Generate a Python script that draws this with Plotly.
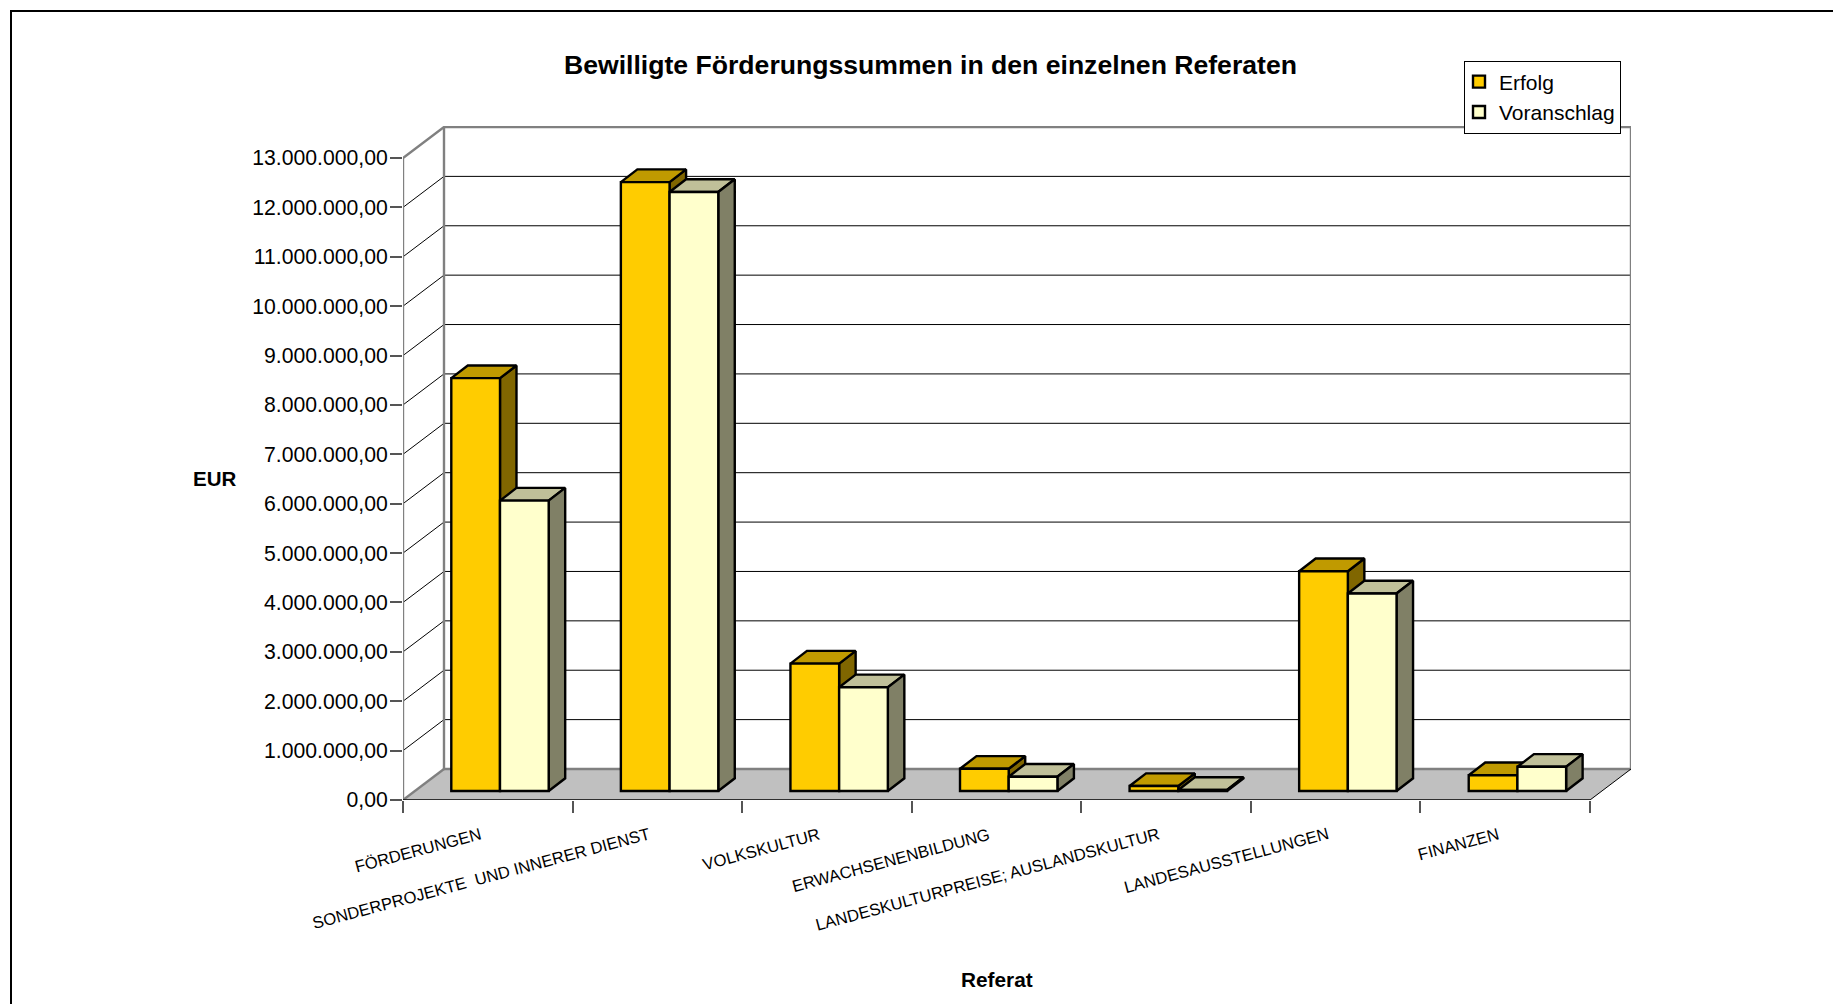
import plotly.graph_objects as go

categories = ["FÖRDERUNGEN", "SONDERPROJEKTE \u00a0UND INNERER DIENST", "VOLKSKULTUR",
              "ERWACHSENENBILDUNG", "LANDESKULTURPREISE; AUSLANDSKULTUR",
              "LANDESAUSSTELLUNGEN", "FINANZEN"]
erfolg = [8360000, 12330000, 2580000, 450000, 100000, 4450000, 320000]
voranschlag = [5880000, 12130000, 2100000, 290000, 20000, 4000000, 490000]
y_ticks = list(range(0, 14000000, 1000000))
y_labels = [f"{v:,.2f}".replace(",", "#").replace(".", ",").replace("#", ".") for v in y_ticks]

# pixel calibration of the oblique projection
L, R_FRONT, R_BACK, Y0, Y_TOP = 403, 1590, 1631, 800, 126
W, H = 1833, 1004
PX = (R_FRONT - L) / len(categories)      # px per category
PY = (Y0 - 158) / 13000000                # px per EUR
x_max = (R_BACK - L) / PX
y_max = (Y0 - Y_TOP) / PY
wall_dx, wall_dy = 41 / PX, 31 / PY
bar_dx, bar_dy = 16.5 / PX, 12.7 / PY
bar_base = 9 / PY
bar_w = 48.7 / PX
group_c = 0.572
top_v = y_ticks[-1]

def poly(points_list):
    xs, ys = [], []
    for pts in points_list:
        xs += [p[0] for p in pts] + [pts[0][0], None]
        ys += [p[1] for p in pts] + [pts[0][1], None]
    return xs, ys

def line_tr(xs, ys, color, width):
    return go.Scatter(x=xs, y=ys, mode="lines", line=dict(color=color, width=width),
                      showlegend=False, hoverinfo="skip", cliponaxis=False)

fig = go.Figure()

# floor
n = len(categories)
fx, fy = poly([[(0, 0), (n, 0), (n + wall_dx, wall_dy), (wall_dx, wall_dy)]])
fig.add_trace(go.Scatter(x=fx, y=fy, mode="lines", fill="toself", fillcolor="#C0C0C0",
                         line=dict(width=0), showlegend=False, hoverinfo="skip", cliponaxis=False))

# gridlines on back wall and left wall
gx, gy = [], []
for v in y_ticks[1:-1]:
    gx += [0, wall_dx, n + wall_dx, None]
    gy += [v, v + wall_dy, v + wall_dy, None]
fig.add_trace(line_tr(gx, gy, "#000000", 1))

# wall outlines
wx = [0, 0, wall_dx, n + wall_dx, n + wall_dx, None, wall_dx, wall_dx, n + wall_dx, None, 0, wall_dx]
wy = [0, top_v, top_v + wall_dy, top_v + wall_dy, wall_dy, None, top_v + wall_dy, wall_dy, wall_dy, None, 0, wall_dy]
fig.add_trace(line_tr(wx, wy, "#808080", 2.4))

# floor front and right edge
fig.add_trace(line_tr([0, n], [0, 0], "#000000", 1.5))
fig.add_trace(line_tr([n, n + wall_dx], [0, wall_dy], "#000000", 1))

# bar faces
e_side, e_top, v_side, v_top = [], [], [], []
for i in range(n):
    x0 = i + group_c - bar_w
    x1 = i + group_c
    x2 = i + group_c + bar_w
    he = bar_base + erfolg[i]
    hv = bar_base + voranschlag[i]
    e_side.append([(x1, bar_base), (x1 + bar_dx, bar_base + bar_dy), (x1 + bar_dx, he + bar_dy), (x1, he)])
    e_top.append([(x0, he), (x1, he), (x1 + bar_dx, he + bar_dy), (x0 + bar_dx, he + bar_dy)])
    v_side.append([(x2, bar_base), (x2 + bar_dx, bar_base + bar_dy), (x2 + bar_dx, hv + bar_dy), (x2, hv)])
    v_top.append([(x1, hv), (x2, hv), (x2 + bar_dx, hv + bar_dy), (x1 + bar_dx, hv + bar_dy)])

for faces, col in [(e_side, "#806600"), (e_top, "#C09A00"), (v_top, "#C0C099"), (v_side, "#808066")]:
    xs, ys = poly(faces)
    fig.add_trace(go.Scatter(x=xs, y=ys, mode="lines", fill="toself", fillcolor=col,
                             line=dict(color="#000000", width=2.4), showlegend=False,
                             hoverinfo="skip", cliponaxis=False))

# front faces on an overlaying axis pair, so that they sit above every other face
centers = [i + group_c for i in range(n)]
for name, vals, col, off in [("Erfolg", erfolg, "#FFCC00", -bar_w), ("Voranschlag", voranschlag, "#FFFFCC", 0)]:
    fig.add_trace(go.Bar(name=name, x=centers, y=vals, base=[bar_base] * n, width=bar_w, offset=off,
                         marker=dict(color=col, line=dict(color="#000000", width=2.4)),
                         xaxis="x2", yaxis="y2", cliponaxis=False, hovertemplate="%{y:,.2f}<extra>" + name + "</extra>"))

FONT = "Liberation Sans, Arial, sans-serif"
def px_x(p):
    return (p - L) / (R_BACK - L)
def px_y(p):
    return (Y0 - p) / (Y0 - Y_TOP)

annotations = [
    dict(text="<b>Bewilligte Förderungssummen in den einzelnen Referaten</b>", xref="paper", yref="paper",
         x=px_x(930), y=px_y(64.5), xanchor="center", yanchor="middle", showarrow=False,
         font=dict(family=FONT, size=26.6, color="#000000")),
    dict(text="<b>EUR</b>", xref="paper", yref="paper", x=px_x(215), y=px_y(478), xanchor="center", yanchor="middle",
         showarrow=False, font=dict(family=FONT, size=20.5, color="#000000")),
    dict(text="<b>Referat</b>", xref="paper", yref="paper", x=px_x(997), y=px_y(979), xanchor="center", yanchor="middle",
         showarrow=False, font=dict(family=FONT, size=20.8, color="#000000")),
]
for i, c in enumerate(categories):
    annotations.append(dict(text=c, xref="x", yref="y", x=i + 0.487, y=0, xanchor="right", yanchor="top",
                            yshift=-22, showarrow=False, textangle=-15,
                            font=dict(family=FONT, size=16.6, color="#000000")))

fig.update_layout(
    width=W, height=H, autosize=False,
    margin=dict(l=L, r=W - R_BACK, t=Y_TOP, b=H - Y0, pad=0),
    paper_bgcolor="#FFFFFF", plot_bgcolor="#FFFFFF",
    font=dict(family=FONT, size=21, color="#000000"),
    barmode="overlay",
    xaxis=dict(range=[0, x_max], tickvals=list(range(n + 1)), ticktext=[""] * (n + 1), ticks="outside",
               ticklen=12, tickwidth=1.5, tickcolor="#555555", showgrid=False, zeroline=False, showline=False),
    yaxis=dict(range=[0, y_max], tickvals=y_ticks, ticktext=y_labels, ticks="outside", ticklen=12,
               tickwidth=1.5, tickcolor="#555555", showgrid=False, zeroline=False, showline=False,
               ticklabelstandoff=-2, tickfont=dict(family=FONT, size=21.2, color="#000000")),
    xaxis2=dict(range=[0, x_max], overlaying="x", visible=False),
    yaxis2=dict(range=[0, y_max], overlaying="y", visible=False),
    legend=dict(x=px_x(1464), y=px_y(60.5), xanchor="left", yanchor="top", indentation=-6,
                bgcolor="#FFFFFF", bordercolor="#000000", borderwidth=1,
                font=dict(family=FONT, size=21, color="#000000"), traceorder="normal", itemclick=False),
    annotations=annotations,
    shapes=[dict(type="rect", xref="paper", yref="paper", layer="below",
                 x0=px_x(11), x1=px_x(1860), y0=px_y(1040), y1=px_y(11),
                 line=dict(color="#000000", width=2), fillcolor="rgba(0,0,0,0)")],
)
fig.write_html("out.html", config={"displayModeBar": False},
               post_script="document.body.style.margin='0';document.documentElement.style.overflow='hidden';")
